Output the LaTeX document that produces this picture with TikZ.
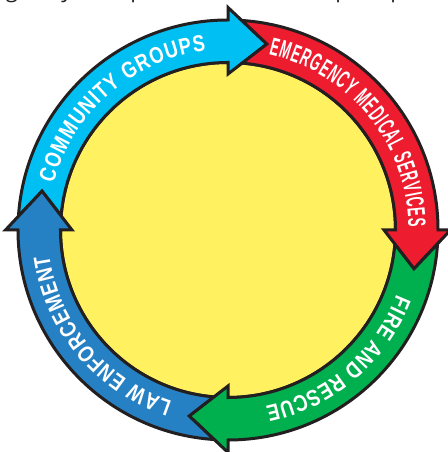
\documentclass[tikz,border=0pt]{standalone}
\usepackage{fontspec}
\usetikzlibrary{decorations.text}
\setmainfont{Open Sans}
\newfontfamily\bandfont[FakeStretch=0.8]{Liberation Sans Bold}
\newfontfamily\condfont[FakeStretch=0.52]{Liberation Sans Bold}
\definecolor{ink}{HTML}{231F20}
\definecolor{hubyellow}{HTML}{FFF15F}
\definecolor{cyanband}{HTML}{00C0F3}
\definecolor{redband}{HTML}{ED1C2E}
\definecolor{greenband}{HTML}{00B04F}
\definecolor{blueband}{HTML}{2681C4}
\tikzset{
  outline/.style={draw=ink,line width=3bp,line join=miter,miter limit=12},
  cutletter/.style={anchor=base,inner sep=0pt,text=ink,font=\fontsize{22bp}{24bp}\selectfont},
  bandtext/.style={decorate,decoration={text along path,text color=white,
    text format delimiters={|}{|},text align={fit to path},raise=0pt}}
}
\newcommand{\bandarrow}[2]{%
  \begin{scope}[rotate=#1]
    \filldraw[outline,fill=#2]
      (176.2:210) arc[start angle=176.2,end angle=90,radius=210]
      -- (90:222.5) -- (78.2:190) -- (90:156) -- (90:167.5)
      arc[start angle=90,end angle=175.1,radius=167.5]
      -- (168.2:190) -- cycle;
  \end{scope}}
\begin{document}
\begin{tikzpicture}[x=1bp,y=1bp]
  \useasboundingbox (0,0) rectangle (448,452);
  \begin{scope}
    \clip (0,0) rectangle (448,452);
    \node[cutletter] at (12,454.5) {g};
    \node[cutletter] at (67,454.5) {y};
    \node[cutletter] at (137,454.5) {p};
    \node[cutletter] at (342,454.5) {p};
    \node[cutletter] at (397,454.5) {p};
  \end{scope}
  \begin{scope}[shift={(228,222)}]
    \filldraw[outline,fill=hubyellow] (0,0) circle[radius=167.5];
    \bandarrow{0}{cyanband}
    \bandarrow{-90}{redband}
    \bandarrow{-180}{greenband}
    \bandarrow{-270}{blueband}
    \path[bandtext,decoration={text={|\bandfont\fontsize{23bp}{25bp}\selectfont|COMMUNITY GROUPS}}]
      (165:180.5) arc[start angle=165,end angle=97,radius=180.5];
    \path[bandtext,decoration={text={|\condfont\fontsize{25bp}{27bp}\selectfont|EMERGENCY MEDICAL SERVICES}}]
      (77:180.5) arc[start angle=77,end angle=1,radius=180.5];
    \path[bandtext,decoration={text={|\bandfont\fontsize{23bp}{25bp}\selectfont|FIRE AND RESCUE}}]
      (-21:180.5) arc[start angle=-21,end angle=-78,radius=180.5];
    \path[bandtext,decoration={text={|\bandfont\fontsize{23bp}{25bp}\selectfont|LAW ENFORCEMENT}}]
      (252:180.5) arc[start angle=252,end angle=188,radius=180.5];
  \end{scope}
\end{tikzpicture}
\end{document}
